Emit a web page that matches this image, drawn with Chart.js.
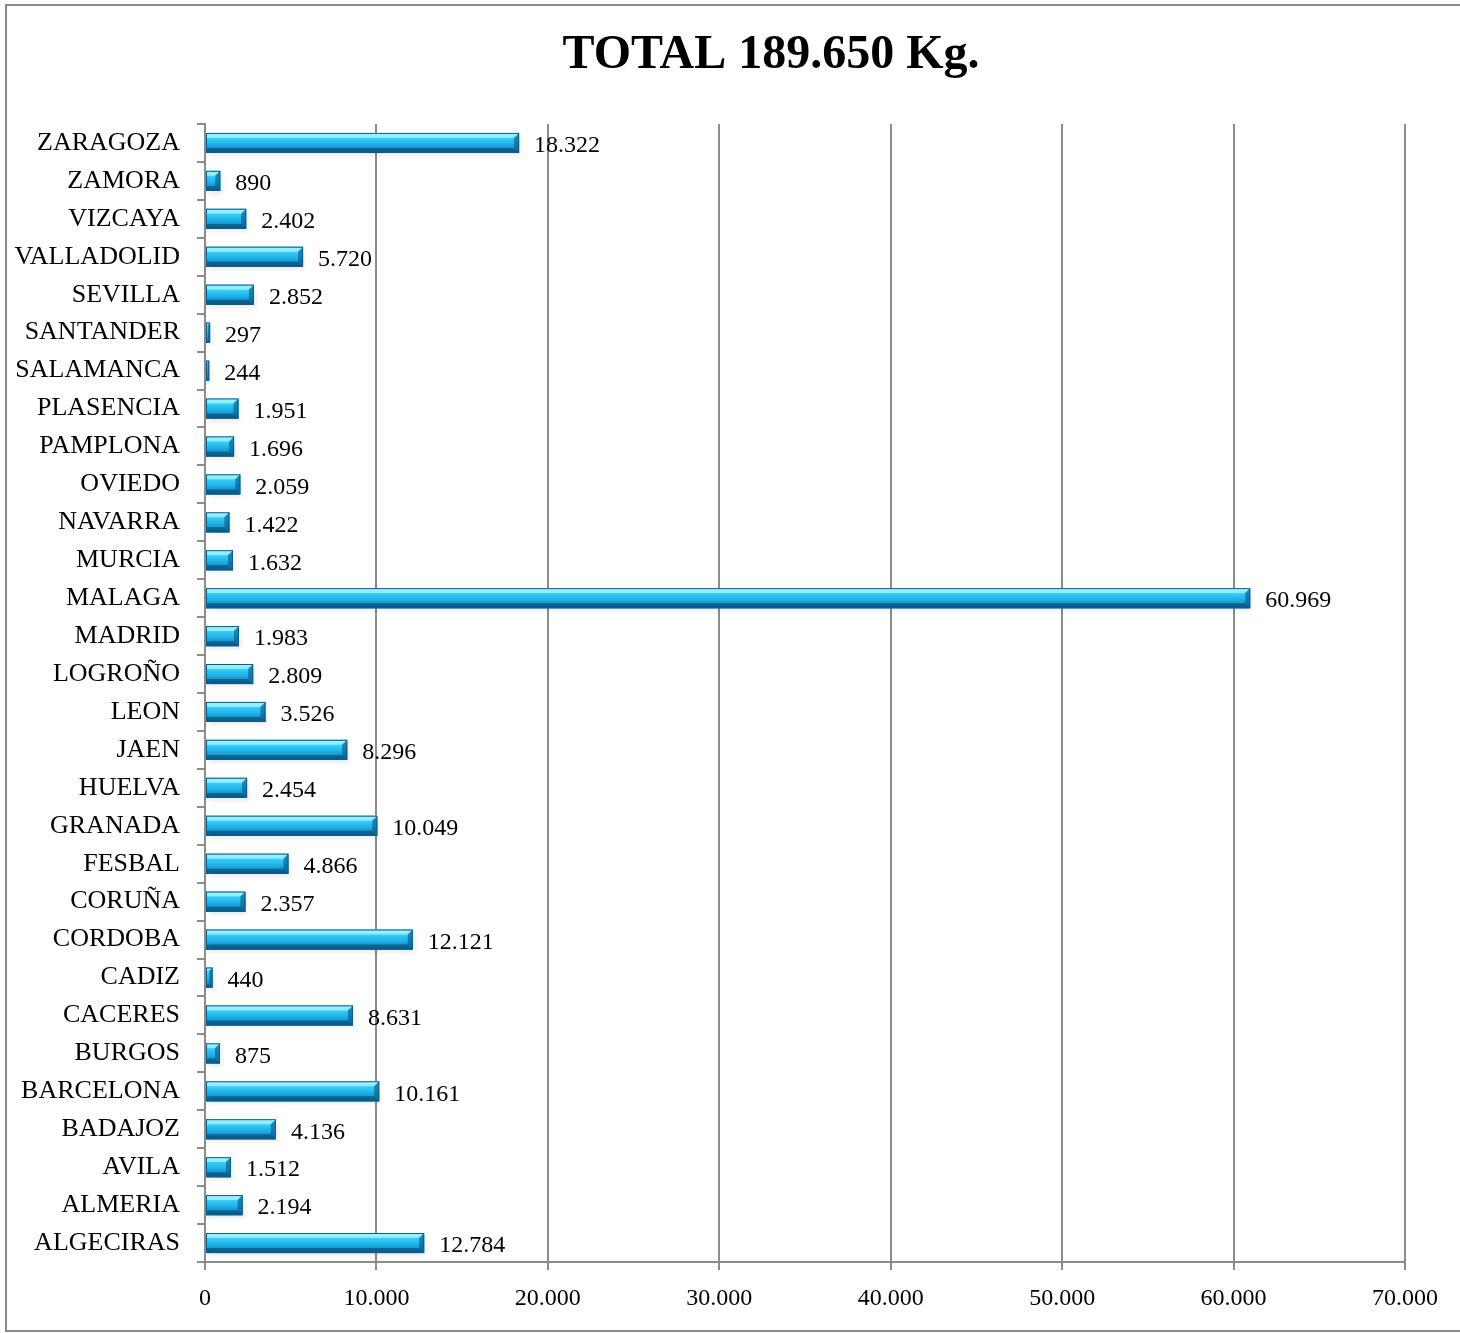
<!DOCTYPE html>
<html>
<head>
<meta charset="utf-8">
<script src="https://cdn.jsdelivr.net/npm/chart.js@4/dist/chart.umd.min.js"></script>
<style>
    body { margin: 0; background: #fff; }
    #wrap { width: 1460px; height: 1333px; }
</style>
</head>
<body>
<div id="wrap"><canvas id="kgChart" width="1460" height="1333"></canvas></div>
<script>
// data, top row first
const cities = ["ZARAGOZA", "ZAMORA", "VIZCAYA", "VALLADOLID", "SEVILLA", "SANTANDER", "SALAMANCA",
    "PLASENCIA", "PAMPLONA", "OVIEDO", "NAVARRA", "MURCIA", "MALAGA", "MADRID", "LOGROÑO", "LEON",
    "JAEN", "HUELVA", "GRANADA", "FESBAL", "CORUÑA", "CORDOBA", "CADIZ", "CACERES", "BURGOS",
    "BARCELONA", "BADAJOZ", "AVILA", "ALMERIA", "ALGECIRAS"];
const kilos = [18322, 890, 2402, 5720, 2852, 297, 244,
    1951, 1696, 2059, 1422, 1632, 60969, 1983, 2809, 3526,
    8296, 2454, 10049, 4866, 2357, 12121, 440, 8631, 875,
    10161, 4136, 1512, 2194, 12784];
const titleText = "TOTAL 189.650 Kg.";
const xMin = 0, xMax = 70000, xStep = 10000;

const serif = "'Liberation Serif', 'Times New Roman', serif";
const gridGray = "#8c8c8c";

function fmt(v) {
    return String(v).replace(/\B(?=(\d{3})+(?!\d))/g, ".");
}

// outer frame + title
const framePlugin = {
    id: "frame",
    beforeDraw(chart) {
        const ctx = chart.ctx;
        ctx.save();
        ctx.strokeStyle = "#8a8a8a";
        ctx.lineWidth = 2;
        ctx.strokeRect(6, 5, chart.width + 10, chart.height - 7);
        ctx.restore();
    },
    afterDraw(chart) {
        const ctx = chart.ctx;
        const area = chart.chartArea;
        ctx.save();
        ctx.fillStyle = "#000";
        ctx.font = "bold 48px " + serif;
        ctx.textAlign = "center";
        ctx.textBaseline = "middle";
        ctx.fillText(titleText, (area.left + area.right) / 2 - 34, 56);
        ctx.restore();
    }
};

// bevelled cyan bars + value labels
const barLook = {
    id: "barLook",
    beforeDatasetsDraw(chart) {
        const ctx = chart.ctx;
        ctx.save();
        chart.getDatasetMeta(0).data.forEach((el) => {
            let top = el.y - el.height / 2;
            ctx.shadowColor = "rgba(0,0,0,0.35)";
            ctx.shadowBlur = 5;
            ctx.shadowOffsetX = 2;
            ctx.shadowOffsetY = 3;
            ctx.fillStyle = "rgba(0,0,0,0.25)";
            ctx.fillRect(el.base, top, el.x - el.base, el.height);
        });
        ctx.restore();
    },
    afterDatasetsDraw(chart) {
        const ctx = chart.ctx;
        ctx.save();
        chart.getDatasetMeta(0).data.forEach((el, i) => {
            let top = el.y - el.height / 2;
            let bottom = el.y + el.height / 2;
            let left = el.base;
            let right = el.x;
            let w = right - left;
            let h = el.height;
            let b = Math.min(5, w / 2, h / 3);

            let g = ctx.createLinearGradient(0, top, 0, bottom);
            g.addColorStop(0, "#7fe8ff");
            g.addColorStop(0.2, "#3fd3fc");
            g.addColorStop(0.55, "#1fb3e8");
            g.addColorStop(0.85, "#1389c2");
            g.addColorStop(1, "#0d6c9e");
            ctx.fillStyle = g;
            ctx.fillRect(left, top, w, h);

            // top bevel
            ctx.fillStyle = "rgba(170,245,255,0.75)";
            ctx.beginPath();
            ctx.moveTo(left, top);
            ctx.lineTo(right, top);
            ctx.lineTo(right - b, top + b);
            ctx.lineTo(left, top + b);
            ctx.closePath();
            ctx.fill();

            // bottom bevel
            ctx.fillStyle = "rgba(8,70,110,0.6)";
            ctx.beginPath();
            ctx.moveTo(left, bottom);
            ctx.lineTo(right, bottom);
            ctx.lineTo(right - b, bottom - b);
            ctx.lineTo(left, bottom - b);
            ctx.closePath();
            ctx.fill();

            // right end bevel
            ctx.fillStyle = "rgba(10,90,140,0.65)";
            ctx.beginPath();
            ctx.moveTo(right, top);
            ctx.lineTo(right, bottom);
            ctx.lineTo(right - b, bottom - b);
            ctx.lineTo(right - b, top + b);
            ctx.closePath();
            ctx.fill();

            ctx.strokeStyle = "#0b5f8f";
            ctx.lineWidth = 1;
            ctx.strokeRect(left + 0.5, top + 0.5, w - 1, h - 1);

            ctx.fillStyle = "#000";
            ctx.font = "24px " + serif;
            ctx.textAlign = "left";
            ctx.textBaseline = "middle";
            ctx.fillText(fmt(kilos[i]), right + 15, el.y + 3);
        });
        ctx.restore();
    }
};

const ctx = document.getElementById("kgChart").getContext("2d");
const kgChart = new Chart(ctx, {
    type: "bar",
    data: {
        labels: cities,
        datasets: [{
            data: kilos,
            backgroundColor: "#1fb3e8",
            borderWidth: 0,
            barPercentage: 0.53,
            categoryPercentage: 1
        }]
    },
    options: {
        indexAxis: "y",
        responsive: false,
        animation: false,
        devicePixelRatio: 1,
        layout: {
            padding: { left: 0, right: 55, top: 124, bottom: 0 }
        },
        scales: {
            x: {
                min: xMin,
                max: xMax,
                afterFit: (scale) => { scale.height = 71; },
                ticks: {
                    stepSize: xStep,
                    color: "#000",
                    padding: 14,
                    font: { family: serif, size: 24 },
                    callback: (v) => fmt(v)
                },
                grid: {
                    color: gridGray,
                    lineWidth: 2,
                    tickLength: 8
                },
                border: { color: gridGray, width: 2 }
            },
            y: {
                afterFit: (scale) => { scale.width = 205; },
                ticks: {
                    color: "#000",
                    padding: 17,
                    font: { family: serif, size: 26 }
                },
                grid: {
                    drawOnChartArea: false,
                    color: gridGray,
                    lineWidth: 2,
                    tickLength: 8
                },
                border: { color: gridGray, width: 2 }
            }
        },
        plugins: {
            legend: { display: false },
            tooltip: { enabled: false },
            title: { display: false }
        }
    },
    plugins: [framePlugin, barLook]
});
</script>
</body>
</html>
